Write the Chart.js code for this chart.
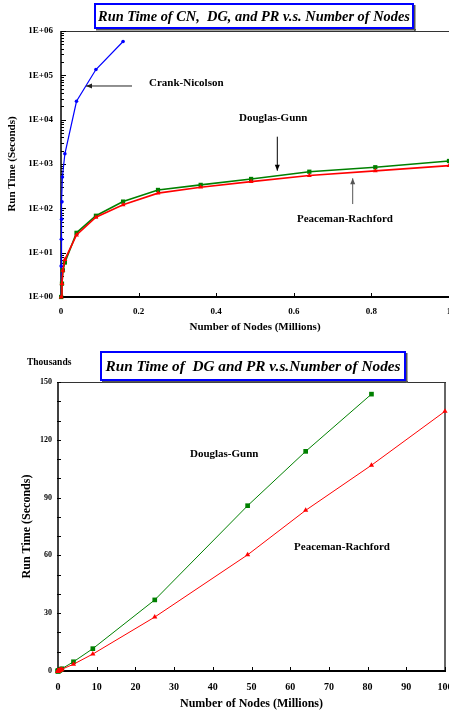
<!DOCTYPE html>
<html><head><meta charset="utf-8">
<script src="https://cdn.jsdelivr.net/npm/chart.js@4.4.1/dist/chart.umd.min.js"></script>
<style>
html,body{margin:0;padding:0;overflow:hidden;background:#fff;width:449px;height:715px;position:relative;}
#c1{position:absolute;left:0;top:0;}
#c2{position:absolute;left:0;top:340px;}
</style></head><body>
<canvas id="c1" width="480" height="340"></canvas>
<canvas id="c2" width="449" height="375"></canvas>
<script>
// ---------- DATA ----------
// Top chart (run time in seconds vs nodes in millions)
const smallNodes = [0.0004, 0.0025, 0.0049, 0.01, 0.04, 0.09, 0.16, 0.25, 0.36, 0.49, 0.64, 0.81, 1.0];
const dgSeconds  = [1, 2, 4, 6, 28, 68, 142, 260, 338, 460, 670, 845, 1170];
const prSeconds  = [1, 2, 4, 7, 25, 63, 120, 220, 300, 400, 550, 700, 920];
const cnNodes    = [0.0001, 0.0004, 0.0009, 0.0016, 0.0025, 0.0036, 0.01, 0.04, 0.09, 0.16];
const cnSeconds  = [1, 5, 20, 57, 140, 510, 1700, 26000, 135000, 580000];
// Bottom chart (run time in thousands of seconds vs nodes in millions)
const largeNodes    = [4, 9, 25, 49, 64, 81, 100];
const dgThousands   = [4.8, 11.6, 36.9, 85.8, 114, 143.7, null];
const prThousands   = [3.5, 8.8, 28, 60.3, 83.4, 106.8, 134.8];
// Tick labels
const topXTicks = [0, 0.2, 0.4, 0.6, 0.8, 1];
const topXLabels = ['0', '0.2', '0.4', '0.6', '0.8', '1'];
const topYTicks = [1, 10, 100, 1000, 10000, 100000, 1000000];
const topYLabels = ['1E+00', '1E+01', '1E+02', '1E+03', '1E+04', '1E+05', '1E+06'];
const botXTicks = [0, 10, 20, 30, 40, 50, 60, 70, 80, 90, 100];
const botXLabels = ['0', '10', '20', '30', '40', '50', '60', '70', '80', '90', '100'];
const botYTicks = [0, 30, 60, 90, 120, 150];
const botYLabels = ['0', '30', '60', '90', '120', '150'];

// ---------- STYLE ----------
const SERIF = "'Liberation Serif', 'Times New Roman', serif";
const BLUE = '#0000FF', GREEN = '#008000', RED = '#FF0000';

function pts(xs, ys, scale) {
  const out = [];
  xs.forEach((x, i) => { if (ys[i] !== null && ys[i] !== undefined) out.push({x: x, y: ys[i] * (scale || 1)}); });
  return out;
}

function titleBox(ctx, x0, y0, w, h, text, fontSize) {
  ctx.save();
  ctx.fillStyle = '#555';
  ctx.fillRect(x0 + 2, y0 + h, w, 1.5);
  ctx.fillRect(x0 + w, y0 + 2, 1.5, h);
  ctx.fillStyle = '#fff';
  ctx.fillRect(x0, y0, w, h);
  ctx.strokeStyle = '#0000FF';
  ctx.lineWidth = 2;
  ctx.strokeRect(x0 + 1, y0 + 1, w - 2, h - 2);
  ctx.fillStyle = '#000';
  ctx.font = 'italic bold ' + fontSize + 'px ' + SERIF;
  ctx.textAlign = 'center';
  ctx.textBaseline = 'middle';
  ctx.fillText(text, x0 + w / 2, y0 + h / 2 + 1);
  ctx.restore();
}

function arrow(ctx, x1, y1, x2, y2, color) {
  ctx.save();
  ctx.strokeStyle = color; ctx.fillStyle = color; ctx.lineWidth = 1;
  ctx.beginPath(); ctx.moveTo(x1, y1); ctx.lineTo(x2, y2); ctx.stroke();
  const a = Math.atan2(y2 - y1, x2 - x1), L = 6, W = 2.5;
  ctx.beginPath();
  ctx.moveTo(x2, y2);
  ctx.lineTo(x2 - L * Math.cos(a) + W * Math.sin(a), y2 - L * Math.sin(a) - W * Math.cos(a));
  ctx.lineTo(x2 - L * Math.cos(a) - W * Math.sin(a), y2 - L * Math.sin(a) + W * Math.cos(a));
  ctx.closePath(); ctx.fill();
  ctx.restore();
}

function label(ctx, text, x, y, size) {
  ctx.save();
  ctx.fillStyle = '#000';
  ctx.font = 'bold ' + size + 'px ' + SERIF;
  ctx.textAlign = 'left';
  ctx.textBaseline = 'middle';
  ctx.fillText(text, x, y);
  ctx.restore();
}

function frame(ctx, a, drawRight) {
  ctx.save();
  ctx.strokeStyle = '#333';
  ctx.lineWidth = 1;
  ctx.beginPath(); ctx.moveTo(a.left, a.top + 0.5); ctx.lineTo(a.right + 1, a.top + 0.5); ctx.stroke();
  if (drawRight) { ctx.lineWidth = 1.5; ctx.beginPath(); ctx.moveTo(a.right, a.top); ctx.lineTo(a.right, a.bottom); ctx.stroke(); }
  ctx.strokeStyle = '#000';
  ctx.lineWidth = 1.5;
  ctx.beginPath(); ctx.moveTo(a.left, a.top); ctx.lineTo(a.left, a.bottom + 1); ctx.stroke();
  ctx.lineWidth = 2;
  ctx.beginPath(); ctx.moveTo(a.left - 1, a.bottom); ctx.lineTo(a.right + 1, a.bottom); ctx.stroke();
  ctx.restore();
}

// ---------- TOP CHART ----------
const topPlugin = {
  id: 'topDeco',
  beforeDatasetsDraw(chart) {
    const ctx = chart.ctx, a = chart.chartArea, xs = chart.scales.x, ys = chart.scales.y;
    frame(ctx, a, false);
    ctx.save(); ctx.strokeStyle = '#000'; ctx.lineWidth = 1;
    for (let d = 0; d < 6; d++) {
      for (let m = 2; m <= 9; m++) {
        const py = Math.round(ys.getPixelForValue(m * Math.pow(10, d))) + 0.5;
        ctx.beginPath(); ctx.moveTo(a.left, py); ctx.lineTo(a.left + 3, py); ctx.stroke();
      }
    }
    topYTicks.forEach(v => {
      const py = Math.round(ys.getPixelForValue(v)) + 0.5;
      ctx.beginPath(); ctx.moveTo(a.left, py); ctx.lineTo(a.left + 5, py); ctx.stroke();
    });
    topXTicks.forEach(v => {
      const px = Math.round(xs.getPixelForValue(v)) + 0.5;
      ctx.beginPath(); ctx.moveTo(px, a.bottom); ctx.lineTo(px, a.bottom - 4); ctx.stroke();
    });
    ctx.restore();
  },
  afterDraw(chart) {
    const ctx = chart.ctx, xs = chart.scales.x, ys = chart.scales.y;
    const X = v => xs.getPixelForValue(v), Y = v => ys.getPixelForValue(v);
    titleBox(ctx, 94, 3, 320, 26, 'Run Time of CN,  DG, and PR v.s. Number of Nodes', 14.4);
    label(ctx, 'Crank-Nicolson', X(0.2268), Y(67000), 11);
    arrow(ctx, X(0.183), Y(57500), X(0.0644), Y(57500), '#222');
    label(ctx, 'Douglas-Gunn', X(0.4588), Y(10900), 11);
    arrow(ctx, X(0.5575), Y(4130), X(0.5575), Y(706), '#000');
    label(ctx, 'Peaceman-Rachford', X(0.6082), Y(56), 11);
    arrow(ctx, X(0.7518), Y(125), X(0.7518), Y(476), '#555');
  }
};

new Chart(document.getElementById('c1'), {
  type: 'scatter',
  data: {
    datasets: [
      { label: 'PR', data: pts(smallNodes, prSeconds), showLine: true, borderColor: RED, backgroundColor: RED,
        borderWidth: 1.6, pointStyle: 'triangle', pointRadius: 2.8, pointBorderWidth: 0, clip: false },
      { label: 'DG', data: pts(smallNodes, dgSeconds), showLine: true, borderColor: GREEN, backgroundColor: GREEN,
        borderWidth: 1.6, pointStyle: 'rect', pointRadius: 3, pointBorderWidth: 0, clip: false },
      { label: 'CN', data: pts(cnNodes, cnSeconds), showLine: true, borderColor: BLUE, backgroundColor: BLUE,
        borderWidth: 1.2, pointStyle: 'circle', pointRadius: 1.8, pointBorderWidth: 0, clip: false }
    ]
  },
  options: {
    responsive: false, animation: false, devicePixelRatio: 1,
    layout: { padding: { top: 31, right: 31, left: 0, bottom: 0 } },
    plugins: { legend: { display: false }, tooltip: { enabled: false } },
    elements: { line: { tension: 0 } },
    scales: {
      x: {
        type: 'linear', min: 0, max: 1,
        afterBuildTicks: s => { s.ticks = topXTicks.map(v => ({ value: v })); },
        afterFit: s => { s.height = 43; s.paddingLeft = 0; s.paddingRight = 0; },
        grid: { display: false, drawTicks: false }, border: { display: false },
        ticks: { autoSkip: false, maxRotation: 0, padding: 9, color: '#000',
          font: { family: SERIF, weight: 'bold', size: 9 },
          callback: (v, i) => topXLabels[i] },
        title: { display: true, text: 'Number of Nodes (Millions)', color: '#000',
          font: { family: SERIF, weight: 'bold', size: 11 }, padding: { top: 0, bottom: 6 } }
      },
      y: {
        type: 'logarithmic', min: 1, max: 1000000,
        afterBuildTicks: s => { s.ticks = topYTicks.map(v => ({ value: v })); },
        afterFit: s => { s.width = 61; s.paddingTop = 0; s.paddingBottom = 0; },
        grid: { display: false, drawTicks: false }, border: { display: false },
        ticks: { autoSkip: false, padding: 8, color: '#000',
          font: { family: SERIF, weight: 'bold', size: 9 },
          callback: (v, i) => topYLabels[i] },
        title: { display: true, text: 'Run Time (Seconds)', color: '#000',
          font: { family: SERIF, weight: 'bold', size: 11 }, padding: { top: 6, bottom: 0 } }
      }
    }
  },
  plugins: [topPlugin]
});

// ---------- BOTTOM CHART ----------
const botPlugin = {
  id: 'botDeco',
  beforeDatasetsDraw(chart) {
    const ctx = chart.ctx, a = chart.chartArea, xs = chart.scales.x, ys = chart.scales.y;
    frame(ctx, a, true);
    ctx.save(); ctx.strokeStyle = '#000'; ctx.lineWidth = 1;
    for (let v = 0; v <= 150; v += 10) {
      const py = Math.round(ys.getPixelForValue(v)) + 0.5;
      ctx.beginPath(); ctx.moveTo(a.left - 1, py); ctx.lineTo(a.left + 3, py); ctx.stroke();
    }
    botXTicks.forEach(v => {
      const px = Math.round(xs.getPixelForValue(v)) + 0.5;
      ctx.beginPath(); ctx.moveTo(px, a.bottom); ctx.lineTo(px, a.bottom - 4); ctx.stroke();
    });
    ctx.restore();
  },
  afterDraw(chart) {
    const ctx = chart.ctx, xs = chart.scales.x, ys = chart.scales.y;
    const X = v => xs.getPixelForValue(v), Y = v => ys.getPixelForValue(v);
    titleBox(ctx, 100, 11, 306, 30, 'Run Time of  DG and PR v.s.Number of Nodes', 15.3);
    label(ctx, 'Thousands', 27, 22.5, 9.5);
    label(ctx, 'Douglas-Gunn', X(34.1), Y(112.6), 11);
    label(ctx, 'Peaceman-Rachford', X(61.0), Y(64.4), 11);
  }
};

const dgBottom = pts(smallNodes, dgSeconds, 0.001).concat(pts(largeNodes, dgThousands));
const prBottom = pts(smallNodes, prSeconds, 0.001).concat(pts(largeNodes, prThousands));

new Chart(document.getElementById('c2'), {
  type: 'scatter',
  data: {
    datasets: [
      { label: 'PR', data: prBottom, showLine: true, borderColor: RED, backgroundColor: RED,
        borderWidth: 1, pointStyle: 'triangle', pointRadius: 3, pointBorderWidth: 0, clip: false },
      { label: 'DG', data: dgBottom, showLine: true, borderColor: GREEN, backgroundColor: GREEN,
        borderWidth: 1, pointStyle: 'rect', pointRadius: 3.3, pointBorderWidth: 0, clip: false }
    ]
  },
  options: {
    responsive: false, animation: false, devicePixelRatio: 1,
    layout: { padding: { top: 42, right: 4, left: 0, bottom: 0 } },
    plugins: { legend: { display: false }, tooltip: { enabled: false } },
    elements: { line: { tension: 0 } },
    scales: {
      x: {
        type: 'linear', min: 0, max: 100,
        afterBuildTicks: s => { s.ticks = botXTicks.map(v => ({ value: v })); },
        afterFit: s => { s.height = 44; s.paddingLeft = 0; s.paddingRight = 0; },
        grid: { display: false, drawTicks: false }, border: { display: false },
        ticks: { autoSkip: false, maxRotation: 0, padding: 10, color: '#000',
          font: { family: SERIF, weight: 'bold', size: 10 },
          callback: (v, i) => botXLabels[i] },
        title: { display: true, text: 'Number of Nodes (Millions)', color: '#000',
          font: { family: SERIF, weight: 'bold', size: 12 }, padding: { top: 0, bottom: 4 } }
      },
      y: {
        type: 'linear', min: 0, max: 150,
        afterBuildTicks: s => { s.ticks = botYTicks.map(v => ({ value: v })); },
        afterFit: s => { s.width = 58; s.paddingTop = 0; s.paddingBottom = 0; },
        grid: { display: false, drawTicks: false }, border: { display: false },
        ticks: { autoSkip: false, padding: 6, color: '#000',
          font: { family: SERIF, weight: 'bold', size: 8 },
          callback: (v, i) => botYLabels[i] },
        title: { display: true, text: 'Run Time (Seconds)', color: '#000',
          font: { family: SERIF, weight: 'bold', size: 12 }, padding: { top: 20, bottom: 0 } }
      }
    }
  },
  plugins: [botPlugin]
});
</script>
</body></html>
